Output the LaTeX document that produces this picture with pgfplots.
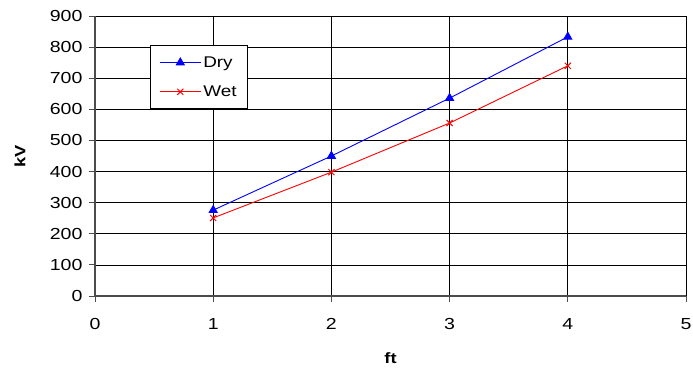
\documentclass[border=0pt]{standalone}
\usepackage{pgfplots}
\pgfplotsset{compat=1.18}
\usepackage{fontspec}
\setmainfont{Liberation Sans}[FakeStretch=1.22]
\begin{document}
\begin{tikzpicture}[x=1pt,y=1pt]
\useasboundingbox (-95,-75) rectangle (598,296);
\begin{axis}[
  at={(0,0)}, anchor=south west,
  scale only axis, width=591pt, height=280pt,
  xmin=0, xmax=5, ymin=0, ymax=900,
  xtick={0,1,2,3,4,5}, ytick={0,100,...,900},
  grid=major, major grid style={black, line width=0.7pt},
  axis line style={black!70, line width=1.3pt},
  axis x line*=bottom, axis y line*=left,
  tick style={black!70, line width=0.9pt},
  tick align=outside, major tick length=6pt,
  ticklabel style={font=\fontsize{16}{18}\selectfont},
  xticklabel style={yshift=-13pt},
  yticklabel style={xshift=-3pt},
  /pgf/number format/assume math mode=true,
  xlabel={\textbf{ft}}, ylabel={\textbf{kV}},
  label style={font=\fontsize{15}{18}\selectfont},
  xlabel style={at={(axis description cs:0.5,-0.221)}, anchor=center},
  ylabel style={at={(axis description cs:-0.127,0.5)}, anchor=center},
  legend style={at={(0.093,0.896)}, anchor=north west, draw=black, line width=0.8pt,
    font=\fontsize{15.5}{18}\selectfont, row sep=13pt, inner xsep=9pt, inner ysep=9pt,
    nodes={inner sep=2pt}},
  legend cell align=left,
  legend image code/.code={\draw[mark repeat=2,mark phase=2,#1] plot coordinates {(0pt,0pt) (20.5pt,0pt) (41pt,0pt)};},
]
\addplot[blue, line width=0.9pt, mark=triangle*, mark size=4.6pt, mark options={solid}] coordinates {(1,276) (2,450) (3,636) (4,833)};
\addlegendentry{Dry}
\addplot[red, line width=0.9pt, mark=x, mark size=4.3pt, mark options={line width=1pt}] coordinates {(1,251) (2,398) (3,556) (4,740)};
\addlegendentry{Wet}
\end{axis}
\end{tikzpicture}
\end{document}
